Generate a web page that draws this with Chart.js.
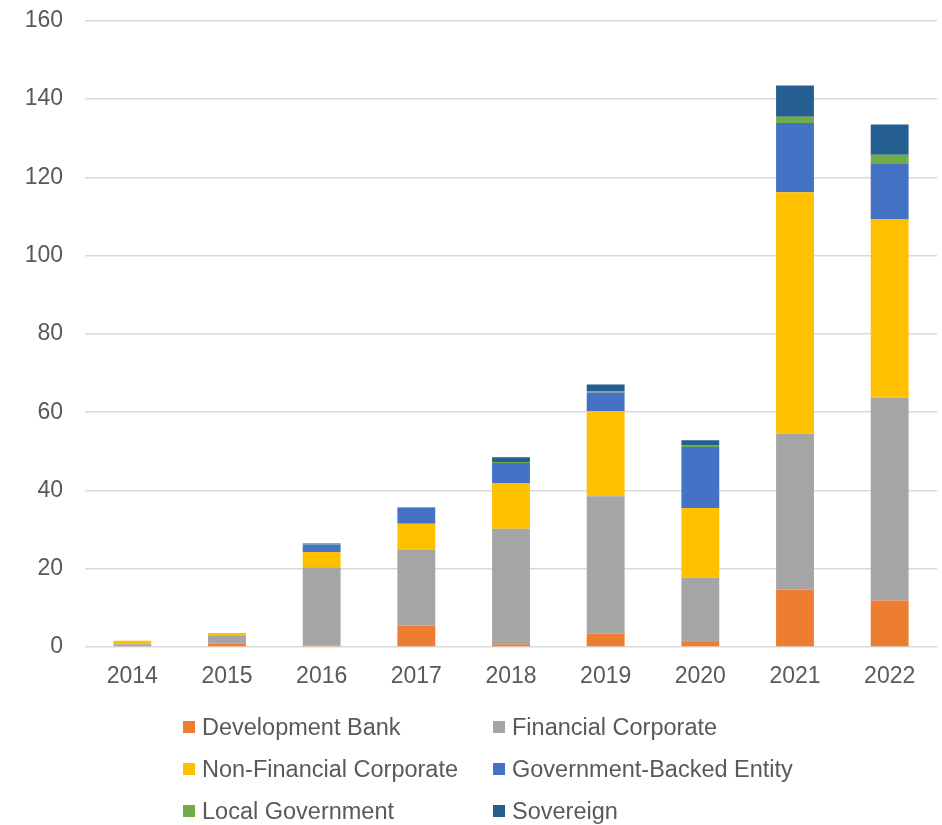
<!DOCTYPE html>
<html>
<head>
<meta charset="utf-8">
<script src="https://cdn.jsdelivr.net/npm/chart.js@4/dist/chart.umd.min.js"></script>
<style>
  html, body { margin: 0; padding: 0; background: #fff; }
  body { width: 942px; height: 825px; position: relative; overflow: hidden; font-family: "Liberation Sans", Arial, sans-serif; }
  #wrap { position: absolute; left: 0; top: -15px; width: 942px; height: 715px; }
  #legend { position: absolute; left: 0; top: 0; width: 942px; height: 825px; pointer-events: none; }
  .item { position: absolute; display: flex; align-items: center; font-size: 23.5px; color: #595959; height: 28px; white-space: nowrap; }
  .item span.box { display: inline-block; width: 12px; height: 12px; margin-right: 7px; }
</style>
</head>
<body>
<div id="wrap"><canvas id="grafico"></canvas></div>
<div id="legend"></div>
<script>
// anos e valores por tipo de emissor
const anos = ['2014', '2015', '2016', '2017', '2018', '2019', '2020', '2021', '2022'];

const developmentBank     = [0.0, 0.8, 0.3, 5.5, 0.7, 3.4, 1.3, 14.7, 11.9];
const financialCorporate  = [0.7, 2.2, 20.1, 19.4, 29.5, 35.1, 16.4, 39.8, 51.8];
const nonFinancialCorp    = [0.9, 0.6, 3.9, 6.6, 11.7, 21.8, 17.8, 61.7, 45.5];
const governmentBacked    = [0.0, 0.0, 1.9, 4.0, 5.1, 4.7, 15.6, 17.7, 14.2];
const localGovernment     = [0.0, 0.0, 0.2, 0.1, 0.3, 0.3, 0.5, 1.6, 2.4];
const sovereign           = [0.0, 0.0, 0.1, 0.1, 1.2, 1.8, 1.2, 8.0, 7.7];

const yTicks = [0, 20, 40, 60, 80, 100, 120, 140, 160];

const series = [
    { label: 'Development Bank', data: developmentBank, cor: '#ED7D31' },
    { label: 'Financial Corporate', data: financialCorporate, cor: '#A5A5A5' },
    { label: 'Non-Financial Corporate', data: nonFinancialCorp, cor: '#FFC000' },
    { label: 'Government-Backed Entity', data: governmentBacked, cor: '#4472C4' },
    { label: 'Local Government', data: localGovernment, cor: '#70AD47' },
    { label: 'Sovereign', data: sovereign, cor: '#255E91' }
];

const textoCor = '#595959';
const fonte = { family: '"Liberation Sans", Arial, sans-serif', size: 23 };

const ctx = document.getElementById('grafico').getContext('2d');
new Chart(ctx, {
    type: 'bar',
    data: {
        labels: anos,
        datasets: series.map(s => ({
            label: s.label,
            data: s.data,
            backgroundColor: s.cor,
            borderWidth: 0,
            barPercentage: 0.4,
            categoryPercentage: 1.0
        }))
    },
    options: {
        responsive: true,
        maintainAspectRatio: false,
        animation: false,
        layout: { padding: { top: 0, right: 5, left: 0, bottom: 0 } },
        plugins: {
            legend: { display: false },
            tooltip: { enabled: false }
        },
        scales: {
            x: {
                stacked: true,
                grid: { display: false, drawTicks: false },
                border: { display: false },
                ticks: { color: textoCor, font: fonte, padding: 16, maxRotation: 0 },
                afterFit: scale => { scale.height = 53; }
            },
            y: {
                stacked: true,
                min: 0,
                max: 160,
                afterBuildTicks: scale => { scale.ticks = yTicks.map(v => ({ value: v })); },
                grid: { color: '#D9D9D9', lineWidth: 1.5, drawTicks: false },
                border: { display: false },
                ticks: { color: textoCor, font: fonte, padding: 22 },
                afterFit: scale => { scale.width = 85; }
            }
        }
    }
});

// legenda em duas colunas abaixo do gráfico
const legenda = document.getElementById('legend');
const colX = [183, 493];
const rowY = [727, 769, 811];
series.forEach((s, i) => {
    const el = document.createElement('div');
    el.className = 'item';
    el.style.left = colX[i % 2] + 'px';
    el.style.top = (rowY[Math.floor(i / 2)] - 14) + 'px';
    el.innerHTML = '<span class="box" style="background:' + s.cor + '"></span>' + s.label;
    legenda.appendChild(el);
});
</script>
</body>
</html>
